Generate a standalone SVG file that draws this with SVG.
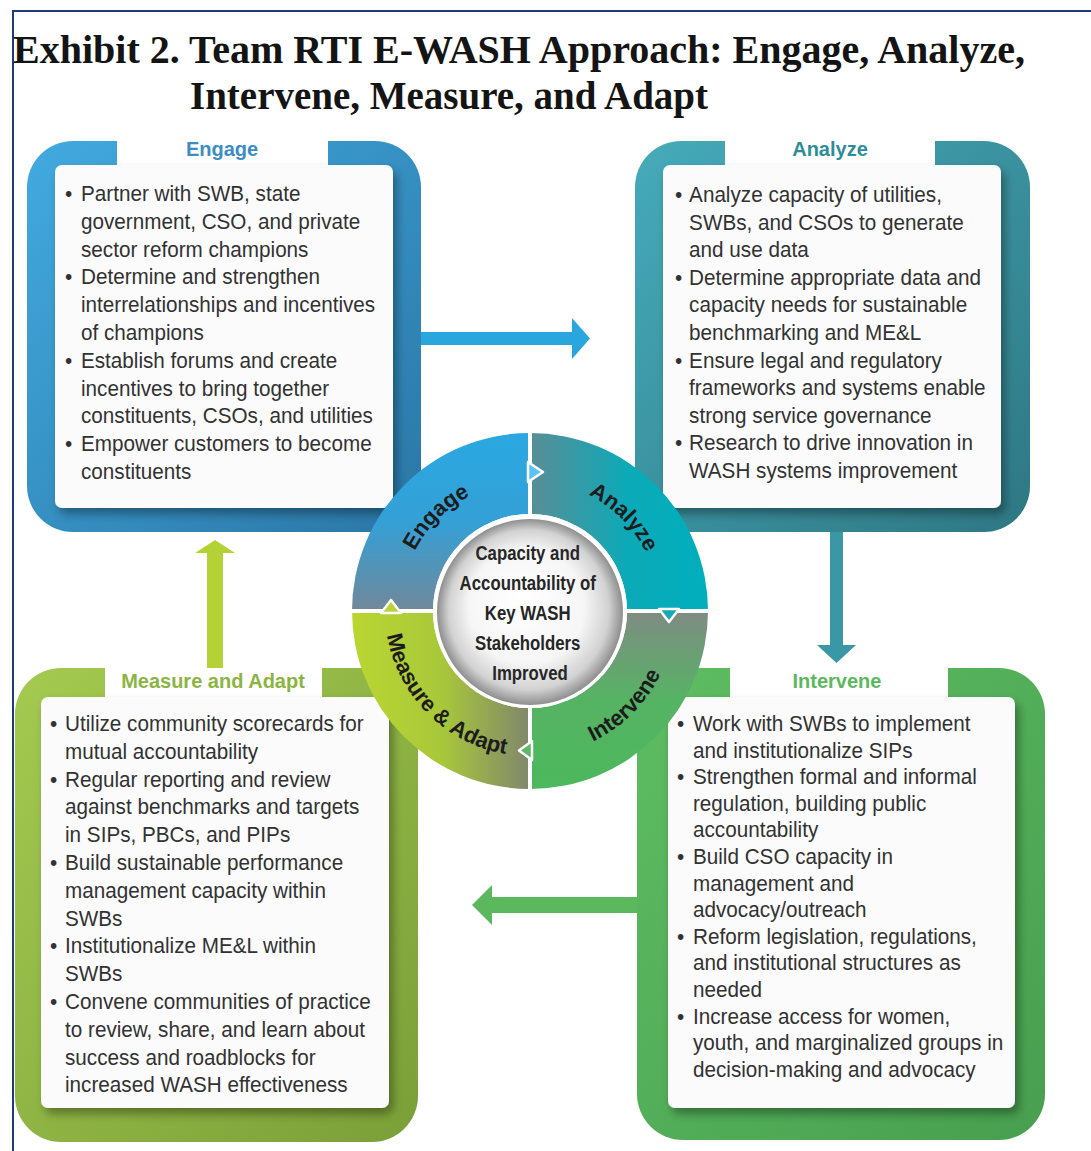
<svg xmlns="http://www.w3.org/2000/svg" width="1091" height="1151" viewBox="0 0 1091 1151">
  <defs>
    <style>
      .title { font-family: "Liberation Serif", "Times New Roman", serif; font-weight: bold; font-size: 39.5px; fill: #141414; }
      .body { font-family: "Liberation Sans", Arial, sans-serif; font-size: 22px; fill: #323232; }
      .head { font-family: "Liberation Sans", Arial, sans-serif; font-size: 20px; font-weight: bold; text-anchor: middle; }
      .ring { font-family: "Liberation Sans", Arial, sans-serif; font-size: 22px; font-weight: bold; fill: #1c1c1c; }
      .hubtxt { font-family: "Liberation Sans", Arial, sans-serif; font-size: 21px; font-weight: bold; fill: #262626; text-anchor: middle; }
      .panel { fill: #fbfbfb; filter: url(#boxShadow); }
      .gap { fill: #ffffff; }
      .divider { stroke: #ffffff; stroke-width: 4; }
      .notch { stroke: #ffffff; stroke-width: 2.5; stroke-linejoin: round; }
    </style>
    <filter id="boxShadow" x="-10%" y="-10%" width="125%" height="125%">
      <feDropShadow dx="4" dy="6" stdDeviation="5" flood-color="#000000" flood-opacity="0.35"/>
    </filter>
    <!-- frame gradients -->
    <linearGradient id="fEngage" x1="0" y1="0" x2="1" y2="1">
      <stop offset="0" stop-color="#42aae0"/>
      <stop offset="1" stop-color="#2a76a5"/>
    </linearGradient>
    <linearGradient id="fAnalyze" x1="0" y1="0" x2="1" y2="1">
      <stop offset="0" stop-color="#46abba"/>
      <stop offset="1" stop-color="#2e7783"/>
    </linearGradient>
    <linearGradient id="fMeasure" x1="0" y1="0" x2="1" y2="1">
      <stop offset="0" stop-color="#a4ca50"/>
      <stop offset="1" stop-color="#7a9f38"/>
    </linearGradient>
    <linearGradient id="fIntervene" x1="0" y1="0" x2="1" y2="1">
      <stop offset="0" stop-color="#5ebd62"/>
      <stop offset="1" stop-color="#479f4f"/>
    </linearGradient>
    <!-- ring quadrant gradients -->
    <linearGradient id="qEngage" gradientUnits="userSpaceOnUse" x1="0" y1="433" x2="0" y2="611">
      <stop offset="0" stop-color="#2aa8e2"/>
      <stop offset="0.5" stop-color="#34a0d6"/>
      <stop offset="1" stop-color="#71889a"/>
    </linearGradient>
    <linearGradient id="qAnalyze" gradientUnits="userSpaceOnUse" x1="530" y1="0" x2="708" y2="0">
      <stop offset="0" stop-color="#5a8d95"/>
      <stop offset="0.55" stop-color="#0caab8"/>
      <stop offset="1" stop-color="#00aebc"/>
    </linearGradient>
    <linearGradient id="qIntervene" gradientUnits="userSpaceOnUse" x1="0" y1="611" x2="0" y2="789">
      <stop offset="0" stop-color="#808b84"/>
      <stop offset="0.5" stop-color="#56b364"/>
      <stop offset="1" stop-color="#4cb85c"/>
    </linearGradient>
    <linearGradient id="qMeasure" gradientUnits="userSpaceOnUse" x1="352" y1="0" x2="530" y2="0">
      <stop offset="0" stop-color="#bad631"/>
      <stop offset="0.5" stop-color="#a9c83a"/>
      <stop offset="1" stop-color="#80876c"/>
    </linearGradient>
    <radialGradient id="hubFill" cx="0.5" cy="0.5" r="0.5" fx="0.45" fy="0.42">
      <stop offset="0" stop-color="#ffffff"/>
      <stop offset="0.62" stop-color="#f6f6f6"/>
      <stop offset="0.86" stop-color="#d2d2d2"/>
      <stop offset="1" stop-color="#8e8e8e"/>
    </radialGradient>
    <!-- label arcs on the ring -->
    <path id="arcEngage" d="M400,611 A130,130 0 0 1 530,481"/>
    <path id="arcAnalyze" d="M530,481 A130,130 0 0 1 660,611"/>
    <path id="arcIntervene" d="M530,756 A145,145 0 0 0 675,611"/>
    <path id="arcMeasure" d="M385,611 A145,145 0 0 0 530,756"/>
  </defs>

  <rect width="1091" height="1151" fill="#ffffff"/>

  <!-- page rule -->
  <path d="M13,1151 V11 H1091" fill="none" stroke="#1f3c7a" stroke-width="2"/>

  <!-- heading -->
  <g id="heading">
    <text class="title" x="13" y="63" textLength="1012" lengthAdjust="spacingAndGlyphs">Exhibit 2. Team RTI E-WASH Approach: Engage, Analyze,</text>
    <text class="title" x="190" y="109" textLength="518" lengthAdjust="spacingAndGlyphs">Intervene, Measure, and Adapt</text>
  </g>

  <!-- Engage -->
  <g id="node-engage">
    <rect x="27" y="141" width="394" height="391" rx="46" fill="url(#fEngage)"/>
    <rect class="gap" x="117" y="138" width="211" height="27"/>
    <rect class="panel" x="55" y="165" width="338" height="343" rx="7"/>
    <text class="head" x="222" y="156" fill="#3b8dc4">Engage</text>
    <g transform="translate(65,0) scale(0.94,1)">
      <text class="body">
        <tspan x="0" y="201">•</tspan>
        <tspan x="0" y="284">•</tspan>
        <tspan x="0" y="368">•</tspan>
        <tspan x="0" y="451">•</tspan>
      </text>
      <text class="body">
        <tspan x="17" y="201">Partner with SWB, state</tspan>
        <tspan x="17" y="229">government, CSO, and private</tspan>
        <tspan x="17" y="257">sector reform champions</tspan>
        <tspan x="17" y="284">Determine and strengthen</tspan>
        <tspan x="17" y="312">interrelationships and incentives</tspan>
        <tspan x="17" y="340">of champions</tspan>
        <tspan x="17" y="368">Establish forums and create</tspan>
        <tspan x="17" y="396">incentives to bring together</tspan>
        <tspan x="17" y="423">constituents, CSOs, and utilities</tspan>
        <tspan x="17" y="451">Empower customers to become</tspan>
        <tspan x="17" y="479">constituents</tspan>
      </text>
    </g>
  </g>

  <!-- Analyze -->
  <g id="node-analyze">
    <rect x="635" y="141" width="395" height="391" rx="46" fill="url(#fAnalyze)"/>
    <rect class="gap" x="725" y="138" width="210" height="27"/>
    <rect class="panel" x="663" y="165" width="338" height="343" rx="7"/>
    <text class="head" x="830" y="156" fill="#2e8d9b">Analyze</text>
    <g transform="translate(675,0) scale(0.94,1)">
      <text class="body">
        <tspan x="0" y="202">•</tspan>
        <tspan x="0" y="285">•</tspan>
        <tspan x="0" y="368">•</tspan>
        <tspan x="0" y="450">•</tspan>
      </text>
      <text class="body">
        <tspan x="15" y="202">Analyze capacity of utilities,</tspan>
        <tspan x="15" y="230">SWBs, and CSOs to generate</tspan>
        <tspan x="15" y="257">and use data</tspan>
        <tspan x="15" y="285">Determine appropriate data and</tspan>
        <tspan x="15" y="312">capacity needs for sustainable</tspan>
        <tspan x="15" y="340">benchmarking and ME&amp;L</tspan>
        <tspan x="15" y="368">Ensure legal and regulatory</tspan>
        <tspan x="15" y="395">frameworks and systems enable</tspan>
        <tspan x="15" y="423">strong service governance</tspan>
        <tspan x="15" y="450">Research to drive innovation in</tspan>
        <tspan x="15" y="478">WASH systems improvement</tspan>
      </text>
    </g>
  </g>

  <!-- Measure and Adapt -->
  <g id="node-measure">
    <rect x="15" y="668" width="403" height="474" rx="46" fill="url(#fMeasure)"/>
    <rect class="gap" x="105" y="665" width="217" height="32"/>
    <rect class="panel" x="41" y="697" width="348" height="411" rx="7"/>
    <text class="head" x="213" y="688" fill="#8bb443">Measure and Adapt</text>
    <g transform="translate(50,0) scale(0.94,1)">
      <text class="body">
        <tspan x="0" y="731">•</tspan>
        <tspan x="0" y="787">•</tspan>
        <tspan x="0" y="870">•</tspan>
        <tspan x="0" y="953">•</tspan>
        <tspan x="0" y="1009">•</tspan>
      </text>
      <text class="body">
        <tspan x="16" y="731">Utilize community scorecards for</tspan>
        <tspan x="16" y="759">mutual accountability</tspan>
        <tspan x="16" y="787">Regular reporting and review</tspan>
        <tspan x="16" y="814">against benchmarks and targets</tspan>
        <tspan x="16" y="842">in SIPs, PBCs, and PIPs</tspan>
        <tspan x="16" y="870">Build sustainable performance</tspan>
        <tspan x="16" y="898">management capacity within</tspan>
        <tspan x="16" y="926">SWBs</tspan>
        <tspan x="16" y="953">Institutionalize ME&amp;L within</tspan>
        <tspan x="16" y="981">SWBs</tspan>
        <tspan x="16" y="1009">Convene communities of practice</tspan>
        <tspan x="16" y="1037">to review, share, and learn about</tspan>
        <tspan x="16" y="1065">success and roadblocks for</tspan>
        <tspan x="16" y="1092">increased WASH effectiveness</tspan>
      </text>
    </g>
  </g>

  <!-- Intervene -->
  <g id="node-intervene">
    <rect x="637" y="668" width="408" height="472" rx="46" fill="url(#fIntervene)"/>
    <rect class="gap" x="730" y="665" width="218" height="32"/>
    <rect class="panel" x="668" y="697" width="347" height="411" rx="7"/>
    <text class="head" x="837" y="688" fill="#5cb85f">Intervene</text>
    <g transform="translate(677,0) scale(0.94,1)">
      <text class="body">
        <tspan x="0" y="731">•</tspan>
        <tspan x="0" y="784">•</tspan>
        <tspan x="0" y="864">•</tspan>
        <tspan x="0" y="944">•</tspan>
        <tspan x="0" y="1024">•</tspan>
      </text>
      <text class="body">
        <tspan x="17" y="731">Work with SWBs to implement</tspan>
        <tspan x="17" y="758">and institutionalize  SIPs</tspan>
        <tspan x="17" y="784">Strengthen formal and informal</tspan>
        <tspan x="17" y="811">regulation, building public</tspan>
        <tspan x="17" y="837">accountability</tspan>
        <tspan x="17" y="864">Build CSO capacity in</tspan>
        <tspan x="17" y="891">management and</tspan>
        <tspan x="17" y="917">advocacy/outreach</tspan>
        <tspan x="17" y="944">Reform legislation, regulations,</tspan>
        <tspan x="17" y="970">and institutional structures as</tspan>
        <tspan x="17" y="997">needed</tspan>
        <tspan x="17" y="1024">Increase access for women,</tspan>
        <tspan x="17" y="1050">youth, and marginalized groups in</tspan>
        <tspan x="17" y="1077">decision-making and advocacy</tspan>
      </text>
    </g>
  </g>

  <!-- cycle arrows between the four stages -->
  <g id="connectors">
    <polygon points="421,332 572,332 572,318 590,338.5 572,359 572,345 421,345" fill="#2aa6de"/>
    <polygon points="830,532 843,532 843,645 856,645 836.5,663 817,645 830,645" fill="#3a97a6"/>
    <polygon points="637,897 492,897 492,885 472,905 492,925 492,913 637,913" fill="#5cb85c"/>
    <polygon points="207,668 207,553 195,553 215,540 235,553 223,553 223,668" fill="#b3d235"/>
  </g>

  <!-- central cycle ring -->
  <g id="hub">
    <path d="M352,611 A178,178 0 0 1 530,433 L530,514 A97,97 0 0 0 433,611 Z" fill="url(#qEngage)"/>
    <path d="M530,433 A178,178 0 0 1 708,611 L627,611 A97,97 0 0 0 530,514 Z" fill="url(#qAnalyze)"/>
    <path d="M708,611 A178,178 0 0 1 530,789 L530,708 A97,97 0 0 0 627,611 Z" fill="url(#qIntervene)"/>
    <path d="M530,789 A178,178 0 0 1 352,611 L433,611 A97,97 0 0 0 530,708 Z" fill="url(#qMeasure)"/>
    <line class="divider" x1="530" y1="431" x2="530" y2="516"/>
    <line class="divider" x1="625" y1="611" x2="710" y2="611"/>
    <line class="divider" x1="530" y1="706" x2="530" y2="791"/>
    <line class="divider" x1="350" y1="611" x2="435" y2="611"/>
    <polygon class="notch" points="528,462 543,472 528,482" fill="#5ec3ee"/>
    <polygon class="notch" points="659,609 679,609 669,622" fill="#16a9b8"/>
    <polygon class="notch" points="532,741 532,760 519,750.5" fill="#5cb866"/>
    <polygon class="notch" points="381,613 401,613 391,600" fill="#b6d43a"/>
    <text class="ring"><textPath href="#arcEngage" startOffset="50%" text-anchor="middle">Engage</textPath></text>
    <text class="ring"><textPath href="#arcAnalyze" startOffset="50%" text-anchor="middle">Analyze</textPath></text>
    <text class="ring"><textPath href="#arcIntervene" startOffset="50%" text-anchor="middle">Intervene</textPath></text>
    <text class="ring"><textPath href="#arcMeasure" startOffset="50%" text-anchor="middle">Measure &amp; Adapt</textPath></text>
    <circle cx="530" cy="611" r="97" fill="#ffffff"/>
    <circle cx="530" cy="612" r="93" fill="url(#hubFill)"/>
    <g transform="translate(530,0) scale(0.8,1)">
      <text class="hubtxt">
        <tspan x="0" y="560">Capacity and</tspan>
        <tspan x="0" y="590">Accountability of</tspan>
        <tspan x="0" y="620">Key WASH</tspan>
        <tspan x="0" y="650">Stakeholders</tspan>
        <tspan x="0" y="680">Improved</tspan>
      </text>
    </g>
  </g>
</svg>
